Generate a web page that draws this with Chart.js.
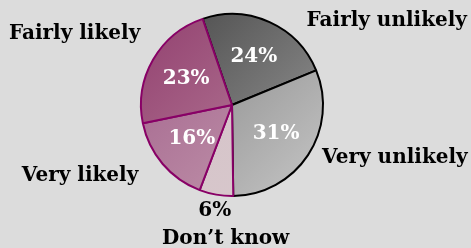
<!DOCTYPE html>
<html>
<head>
<meta charset="utf-8">
<script src="https://cdn.jsdelivr.net/npm/chart.js@4"></script>
<style>
  html, body { margin: 0; padding: 0; background: #dcdcdc; }
  #wrap { width: 471px; height: 248px; }
</style>
</head>
<body>
<div id="wrap"><canvas id="pieChart" width="471" height="248"></canvas></div>
<script>
// data, clockwise from the top
const categories = ['Fairly unlikely', 'Very unlikely', "Don\u2019t know", 'Very likely', 'Fairly likely'];
const shares = [24, 31, 6, 16, 23];

// gradient stops per slice (top-left -> bottom-right)
const sliceStops = [
    ['#464646', '#9e9e9e'],
    ['#7c7c7c', '#c6c6c6'],
    ['#d4c2c8', '#d8c8cc'],
    ['#a0608a', '#c69cb0'],
    ['#92406f', '#bc88a0']
];
const borderCols = ['#000000', '#000000', '#880066', '#880066', '#880066'];

// outside label placement, relative to pie centre and radius
const outerLabels = [
    { text: 'Fairly unlikely', dx: 1.70, dy: -0.92 },
    { text: 'Very unlikely', dx: 1.79, dy: 0.58 },
    { text: "Don\u2019t know", dx: -0.07, dy: 1.47 },
    { text: 'Very likely', dx: -1.67, dy: 0.78 },
    { text: 'Fairly likely', dx: -1.73, dy: -0.78 }
];

const labelFont = '"DejaVu Serif", serif';

function sliceFill(context) {
    const chart = context.chart;
    const area = chart.chartArea;
    const s = sliceStops[context.dataIndex];
    if (!area || !isFinite(area.left)) return s[0];
    const cx = (area.left + area.right) / 2;
    const cy = (area.top + area.bottom) / 2;
    const r = Math.min(area.right - area.left, area.bottom - area.top) / 2;
    const g = chart.ctx.createLinearGradient(cx - r, cy - r, cx + r, cy + r);
    g.addColorStop(0, s[0]);
    g.addColorStop(1, s[1]);
    return g;
}

const labelPlugin = {
    id: 'pieLabels',
    afterDatasetsDraw(chart) {
        const ctx = chart.ctx;
        const meta = chart.getDatasetMeta(0);
        ctx.save();
        ctx.textAlign = 'center';
        ctx.textBaseline = 'middle';
        meta.data.forEach((arc, i) => {
            const r = arc.outerRadius;
            const mid = (arc.startAngle + arc.endAngle) / 2;
            ctx.font = 'bold 20px ' + labelFont;
            if (shares[i] < 10) {
                ctx.fillStyle = '#000000';
                ctx.fillText(shares[i] + '%', arc.x - 0.19 * r, arc.y + 1.16 * r);
            } else {
                ctx.fillStyle = '#ffffff';
                const rr = r * 0.58;
                ctx.fillText(shares[i] + '%', arc.x + Math.cos(mid) * rr, arc.y + Math.sin(mid) * rr);
            }
            const lab = outerLabels[i];
            ctx.fillStyle = '#000000';
            ctx.font = 'bold 20px ' + labelFont;
            ctx.fillText(lab.text, arc.x + lab.dx * r, arc.y + lab.dy * r);
        });
        ctx.restore();
    }
};

new Chart(document.getElementById('pieChart'), {
    type: 'pie',
    data: {
        labels: categories,
        datasets: [{
            data: shares,
            backgroundColor: sliceFill,
            borderColor: borderCols,
            borderWidth: 2,
            borderAlign: 'center'
        }]
    },
    options: {
        responsive: false,
        animation: false,
        rotation: -18.8,
        layout: { padding: { left: 0, right: 7, top: 13, bottom: 51 } },
        plugins: {
            legend: { display: false },
            tooltip: { enabled: false }
        }
    },
    plugins: [labelPlugin]
});
</script>
</body>
</html>
